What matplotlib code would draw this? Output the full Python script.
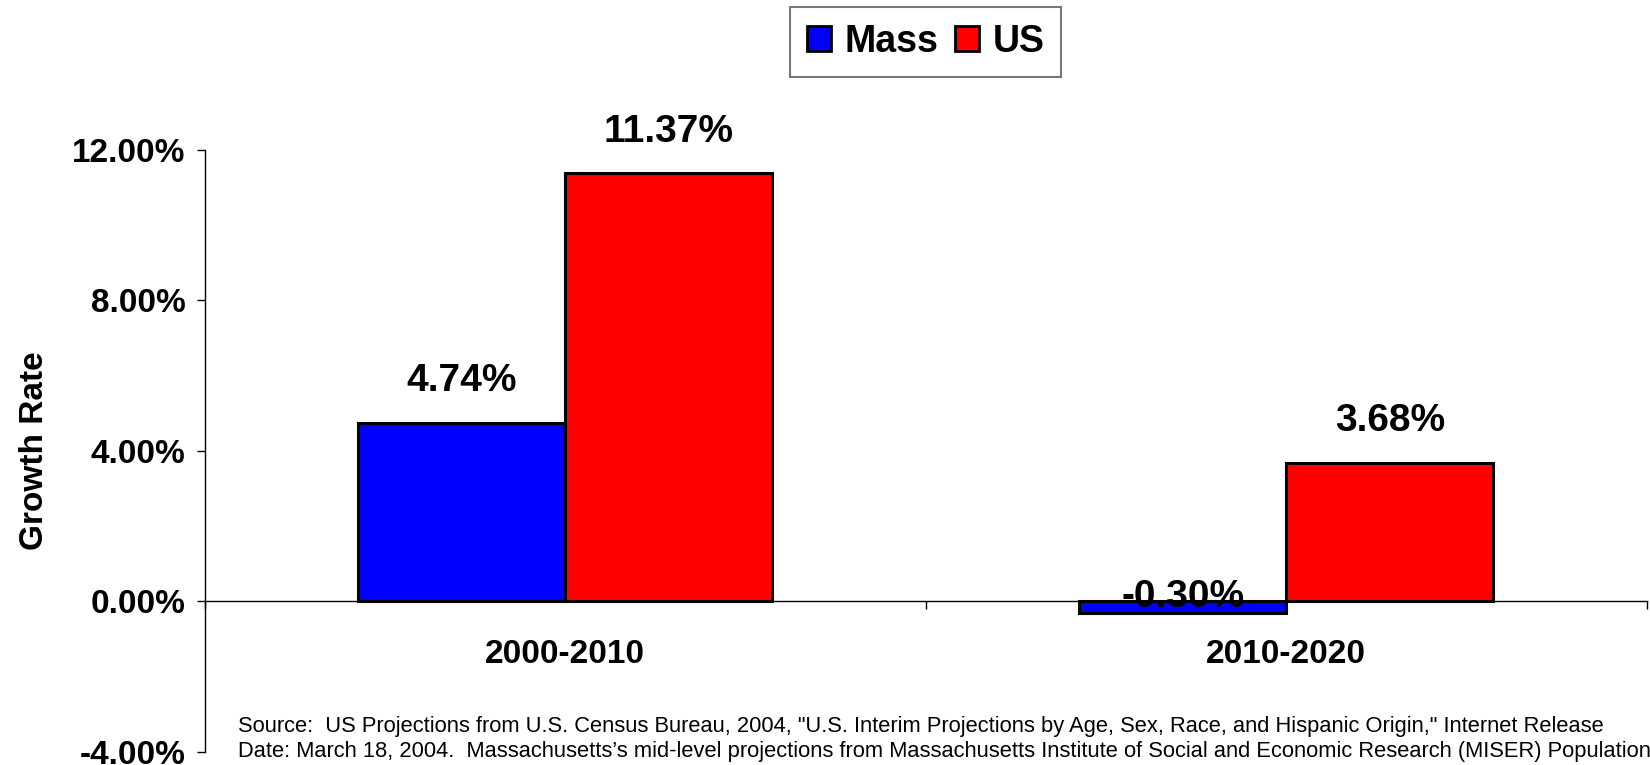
import matplotlib
matplotlib.use("Agg")
import matplotlib.pyplot as plt
from matplotlib.patches import Patch
import numpy as np

# Daten
perioden = ["2000-2010", "2010-2020"]
mass = [4.74, -0.30]
us = [11.37, 3.68]
yticks = [-4, 0, 4, 8, 12]
quelle = ("Source:  US Projections from U.S. Census Bureau, 2004, \"U.S. Interim Projections by Age, Sex, Race, and Hispanic Origin,\" Internet Release\n"
          "Date: March 18, 2004.  Massachusetts\u2019s mid-level projections from Massachusetts Institute of Social and Economic Research (MISER) Population")

plt.rcParams["font.family"] = ["Liberation Sans", "DejaVu Sans"]

fig = plt.figure(figsize=(16.5, 7.65), dpi=100)
ax = fig.add_axes([0.1242, 0.017, 0.8738, 0.7874])

x = np.arange(len(perioden))
w = 0.287
b1 = ax.bar(x - w / 2, mass, w, color="#0000ff", edgecolor="black", linewidth=2.2)
b2 = ax.bar(x + w / 2, us, w, color="#ff0000", edgecolor="black", linewidth=2.2)

# Werte-Beschriftung
for bars, vals in [(b1, mass), (b2, us)]:
    for r, v in zip(bars, vals):
        off = 30 if v > 0 else 11
        ax.annotate(f"{v:.2f}%", (r.get_x() + r.get_width() / 2, v),
                    xytext=(0, off), textcoords="offset points",
                    ha="center", va="center", fontsize=28, fontweight="bold")

# Achsen (Spine zuerst verschieben, sonst werden die Ticks zurückgesetzt)
for s in ["top", "right"]:
    ax.spines[s].set_visible(False)
ax.spines["bottom"].set_position(("data", 0))
ax.spines["bottom"].set_linewidth(1)
ax.spines["left"].set_linewidth(1)

ax.set_xlim(-0.5, 1.5)
ax.set_ylim(-4, 12)
ax.set_xticks([-0.5, 0.5, 1.5], minor=True)
ax.set_yticks(yticks)
ax.set_yticklabels([f"{t:.2f}%" for t in yticks])
ax.set_xticks(x)
ax.set_xticklabels(perioden)
ax.tick_params(axis="x", which="major", length=0, pad=27, labelsize=24)
ax.tick_params(axis="x", which="minor", length=6, width=1, direction="out", labelbottom=False)
ax.tick_params(axis="y", length=6, width=1, direction="out", pad=8, labelsize=24)
for lab in ax.get_xticklabels() + ax.get_yticklabels():
    lab.set_fontweight("bold")

ax.set_ylabel("Growth Rate", fontsize=24, fontweight="bold", labelpad=16)

legende = [Patch(facecolor="#0000ff", edgecolor="black", linewidth=2, label="Mass"),
           Patch(facecolor="#ff0000", edgecolor="black", linewidth=2, label="US")]
leg = fig.legend(handles=legende, loc="center", bbox_to_anchor=(0.561, 0.945), ncol=2,
                 prop={"size": 27, "weight": "bold"}, frameon=True, fancybox=False,
                 handlelength=0.65, handleheight=0.65, handletextpad=0.35,
                 columnspacing=0.45, borderpad=0.45)
leg.get_frame().set_edgecolor("#555555")
leg.get_frame().set_linewidth(1.5)

fig.text(0.1442, 0.034, quelle, fontsize=15.75, ha="left", va="center", linespacing=1.23)

fig.savefig("out.png", dpi=100)
